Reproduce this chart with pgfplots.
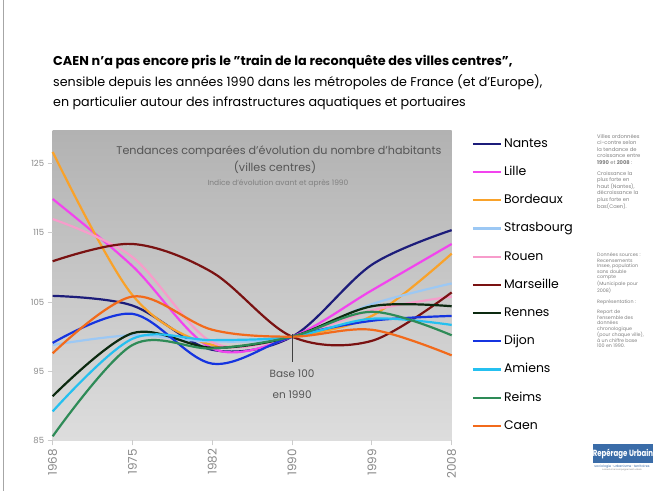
\documentclass[border=0pt]{standalone}
\usepackage{fontspec}
\setmainfont{Poppins}
\usepackage{pgfplots}
\pgfplotsset{compat=1.18}
\definecolor{cNantes}{HTML}{1C1C7A}
\definecolor{cLille}{HTML}{F244EE}
\definecolor{cBordeaux}{HTML}{F9A22A}
\definecolor{cStras}{HTML}{9CC8F4}
\definecolor{cRouen}{HTML}{F79CCB}
\definecolor{cMarseille}{HTML}{7A1212}
\definecolor{cRennes}{HTML}{0C2A10}
\definecolor{cDijon}{HTML}{1534E0}
\definecolor{cAmiens}{HTML}{25C0F0}
\definecolor{cReims}{HTML}{2E8B57}
\definecolor{cCaen}{HTML}{F26A1B}
\definecolor{txtgray}{HTML}{555555}
\definecolor{tickgray}{HTML}{8A8A8A}
\definecolor{logoblue}{HTML}{3A6CA8}
\begin{document}
\begin{tikzpicture}[x=1bp,y=1bp]
\fill[white] (0,0) rectangle (653,491);
\path[use as bounding box] (0,0) rectangle (653,491);
\draw[gray!70, line width=1.5bp] (3.5,0) -- (3.5,491);
% header
\node[anchor=base west, inner sep=0pt, font=\fontsize{12.85}{12.85}\selectfont\bfseries] at (53,491-66) {CAEN n'a pas encore pris le "train de la reconquête des villes centres",};
\node[anchor=base west, inner sep=0pt, font=\fontsize{12.75}{12.75}\selectfont] at (53,491-87) {sensible depuis les années 1990 dans les métropoles de France (et d'Europe),};
\node[anchor=base west, inner sep=0pt, font=\fontsize{12.75}{12.75}\selectfont] at (53,491-107) {en particulier autour des infrastructures aquatiques et portuaires};
\begin{axis}[
  at={(66,73)}, anchor=south west, scale only axis,
  width=399bp, height=310bp,
  xmin=0, xmax=5, ymin=85, ymax=129.8,
  axis line style={draw=none},
  xtick={0,1,2,3,4,5},
  xticklabels={1968,1975,1982,1990,1999,2008},
  ytick={85,95,105,115,125},
  xtick pos=bottom, ytick pos=left,
  tick align=outside, major tick length=5bp,
  tick style={gray!40, line width=0.8bp},
  /pgf/number format/assume math mode=true,
  x tick label style={rotate=90, anchor=east, font=\fontsize{12}{12}\selectfont, text=tickgray},
  y tick label style={font=\fontsize{8.5}{8.5}\selectfont, text=tickgray},
  axis background/.style={shade, top color={rgb,255:red,178;green,178;blue,178}, middle color={rgb,255:red,224;green,224;blue,224}, bottom color={rgb,255:red,221;green,221;blue,221}},
  no markers,
  every axis plot/.append style={line width=2.2bp, smooth, tension=0.55},
  clip=false,
  legend cell align=left,
  legend image code/.code={\draw[#1, line width=2.2bp] (0bp,0bp) -- (28bp,0bp);},
  legend style={at={(1.05,0.977)}, anchor=north west, draw=none, fill=none,
    font=\fontsize{12.5}{12.5}\selectfont, inner sep=0pt, row sep=16.2bp, column sep=2bp,
    nodes={inner sep=0pt, text height=9.5bp, text depth=2.5bp}},
]
\addplot[cNantes] coordinates {(0,105.9) (1,104.5) (2,98.1) (3,100) (4,110.4) (5,115.4)};
\addlegendentry{Nantes}
\addplot[cLille] coordinates {(0,119.9) (1,110.2) (2,98.3) (3,100) (4,106.7) (5,113.4)};
\addlegendentry{Lille}
\addplot[cBordeaux] coordinates {(0,126.7) (1,106.0) (2,98.8) (3,100) (4,103.0) (5,112.0)};
\addlegendentry{Bordeaux}
\addplot[cStras] coordinates {(0,98.8) (1,100.2) (2,99.3) (3,100) (4,104.7) (5,107.7)};
\addlegendentry{Strasbourg}
\addplot[cRouen] coordinates {(0,117.0) (1,111.5) (2,99.2) (3,100) (4,103.8) (5,105.8)};
\addlegendentry{Rouen}
\addplot[cMarseille] coordinates {(0,110.9) (1,113.4) (2,109.3) (3,100) (4,99.4) (5,106.4)};
\addlegendentry{Marseille}
\addplot[cRennes] coordinates {(0,91.4) (1,100.5) (2,98.4) (3,100) (4,104.4) (5,104.4)};
\addlegendentry{Rennes}
\addplot[cDijon] coordinates {(0,99.1) (1,103.3) (2,96.1) (3,100) (4,102.3) (5,103.0)};
\addlegendentry{Dijon}
\addplot[cAmiens] coordinates {(0,89.2) (1,99.7) (2,99.5) (3,100) (4,102.6) (5,101.7)};
\addlegendentry{Amiens}
\addplot[cReims] coordinates {(0,85.6) (1,98.8) (2,98.3) (3,100) (4,103.6) (5,100.2)};
\addlegendentry{Reims}
\addplot[cCaen] coordinates {(0,97.6) (1,105.8) (2,101.0) (3,100) (4,101.0) (5,97.3)};
\addlegendentry{Caen}
\addplot[black!75, line width=1bp, sharp plot, forget plot] coordinates {(3,100.4) (3,96.4)};
\node[font=\fontsize{10.5}{10.5}\selectfont, text=txtgray] at (axis cs:3,94.6) {Base 100};
\node[font=\fontsize{10.5}{10.5}\selectfont, text=txtgray] at (axis cs:3,91.6) {en 1990};
\end{axis}
% inner chart titles
\node[font=\fontsize{11.2}{11.2}\selectfont, text=txtgray, inner sep=0pt] at (279,491-152) {Tendances comparées d'évolution du nombre d'habitants};
\node[font=\fontsize{11.2}{11.2}\selectfont, text=txtgray, inner sep=0pt] at (275,491-167) {(villes centres)};
\node[font=\fontsize{7.5}{7.5}\selectfont, text=gray, inner sep=0pt] at (278,491-184) {Indice d'évolution avant et après 1990};
% right notes
\begin{scope}[every node/.style={anchor=north west, inner sep=0pt, align=left, text=gray, font=\fontsize{5.2}{6.6}\selectfont}]
\node at (597,491-134) {Villes ordonnées\\ci-contre selon\\la tendance de\\croissance entre\\\textbf{1990} et \textbf{2008} :};
\node at (597,491-171) {Croissance la\\plus forte en\\haut (Nantes),\\décroissance la\\plus forte en\\bas(Caen).};
\node[font=\fontsize{4.8}{5.5}\selectfont] at (597,491-253) {Données sources :\\Recensements\\Insee, population\\sans double\\compte\\(Municipale pour\\2008)};
\node[font=\fontsize{4.8}{5.5}\selectfont] at (597,491-300) {Représentation :};
\node[font=\fontsize{4.8}{5.5}\selectfont] at (597,491-310) {Report de\\l'ensemble des\\données\\chronologique\\(pour chaque ville),\\à un chiffre base\\100 en 1990.};
\end{scope}
% logo
\fill[logoblue] (593,491-463) rectangle (653,491-444);
\node[text=white, inner sep=0pt, font=\fontsize{9}{9}\selectfont\bfseries, xscale=0.78] at (623,491-454) {Repérage Urbain};
\node[text=logoblue, inner sep=0pt, font=\fontsize{3.3}{3.3}\selectfont] at (622,491-466.5) {sociologie · urbanisme · territoires};
\node[text=gray, inner sep=0pt, font=\fontsize{2.2}{2.2}\selectfont] at (622,491-470) {conseil et accompagnement urbain};
\end{tikzpicture}
\end{document}
